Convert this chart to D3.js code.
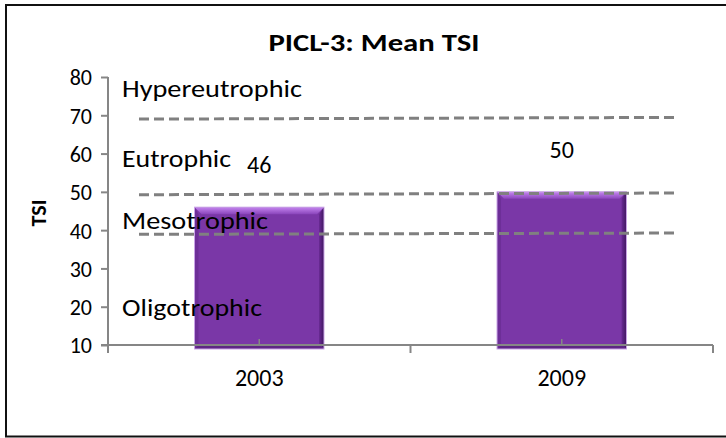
<!DOCTYPE html>
<html>
<head>
<meta charset="utf-8">
<script src="https://cdn.jsdelivr.net/npm/d3@7"></script>
<style>
  html, body { margin: 0; padding: 0; background: #fff; }
  svg { display: block; }
  text { font-family: Carlito, Lato, "DejaVu Sans", sans-serif; fill: #000; }
</style>
</head>
<body>
<svg id="mainsvg" width="726" height="438"></svg>
<script>
// data
const years = ['2003', '2009']
const meanTSI = [46, 50]
const yTicks = [10, 20, 30, 40, 50, 60, 70, 80]
const zoneNames = ['Hypereutrophic', 'Eutrophic', 'Mesotrophic', 'Oligotrophic']
// dashed class limits, value at the left end and at the right end (they tilt a bit)
const limitLeft = [69.0, 49.25, 38.9]
const limitRight = [69.45, 49.7, 39.25]

const svg = d3.select('#mainsvg')

// outer frame
svg.append('rect')
  .attr('x', 6).attr('y', 5)
  .attr('width', 730).attr('height', 431.5)
  .attr('fill', 'none')
  .attr('stroke', '#111')
  .attr('stroke-width', 2)

const plot = {left: 108, right: 713, top: 77, bottom: 345}

const y = d3.scaleLinear().domain([10, 80]).range([plot.bottom, plot.top])
const x = d3.scaleBand().domain(years).range([plot.left, plot.right])
  .paddingInner(0.572).paddingOuter(0.286)

// title
svg.append('text')
  .attr('x', 374).attr('y', 51)
  .attr('text-anchor', 'middle')
  .style('font-size', '24px').style('font-weight', 'bold')
  .attr('textLength', 211).attr('lengthAdjust', 'spacingAndGlyphs')
  .text('PICL-3: Mean TSI')

// bars with a bevel look
const defs = svg.append('defs')
const topGrad = defs.append('linearGradient').attr('id', 'topBevel')
  .attr('x1', 0).attr('y1', 0).attr('x2', 0).attr('y2', 1)
topGrad.append('stop').attr('offset', '0%').attr('stop-color', '#c585f0')
topGrad.append('stop').attr('offset', '100%').attr('stop-color', '#8a45bb')
const rightGrad = defs.append('linearGradient').attr('id', 'rightBevel')
  .attr('x1', 0).attr('y1', 0).attr('x2', 1).attr('y2', 0)
rightGrad.append('stop').attr('offset', '0%').attr('stop-color', '#6a2b95')
rightGrad.append('stop').attr('offset', '100%').attr('stop-color', '#401760')

const bars = svg.append('g')
years.forEach((yr, i) => {
  const x0 = x(yr), w = x.bandwidth()
  const top = y(meanTSI[i]), bot = y(10) + 4
  const b = 7
  const g = bars.append('g')
  g.append('rect')
    .attr('x', x0).attr('y', top)
    .attr('width', w).attr('height', bot - top)
    .attr('fill', '#7a37a7')
  g.append('path')
    .attr('d', `M${x0},${top} L${x0 + w},${top} L${x0 + w - b},${top + b} L${x0 + b},${top + b} Z`)
    .attr('fill', 'url(#topBevel)')
  g.append('path')
    .attr('d', `M${x0 + w},${top} L${x0 + w},${bot} L${x0 + w - 5},${bot - 5} L${x0 + w - 5},${top + b} Z`)
    .attr('fill', 'url(#rightBevel)')
  g.append('path')
    .attr('d', `M${x0},${top} L${x0 + 4},${top + b} L${x0 + 4},${bot - 4} L${x0},${bot} Z`)
    .attr('fill', '#6d2f98')
  g.append('path')
    .attr('d', `M${x0},${bot} L${x0 + 4},${bot - 4} L${x0 + w - 5},${bot - 5} L${x0 + w},${bot} Z`)
    .attr('fill', '#5e2585')
  g.append('rect')
    .attr('x', x0).attr('y', top)
    .attr('width', w).attr('height', bot - top)
    .attr('fill', 'none')
    .attr('stroke', '#caa4e6').attr('stroke-width', 1)
})

// dashed class limits
const lineX0 = 139, lineX1 = 679
svg.append('g').selectAll('line')
  .data(limitLeft)
  .join('line')
  .attr('x1', lineX0).attr('x2', lineX1)
  .attr('y1', d => y(d))
  .attr('y2', (d, i) => y(limitRight[i]))
  .attr('stroke', '#808080')
  .attr('stroke-width', 3)
  .attr('stroke-dasharray', '10,5')

// axes
const axisColor = '#868686'
const yAxis = svg.append('g')
  .attr('transform', `translate(${plot.left},0)`)
  .call(d3.axisLeft(y).tickValues(yTicks).tickSize(7).tickPadding(9).tickFormat(d3.format('d')))
yAxis.select('.domain').attr('stroke', axisColor).attr('stroke-width', 2)
  .attr('d', `M0,${plot.top}V${plot.bottom}`)
yAxis.selectAll('.tick line').attr('stroke', axisColor).attr('stroke-width', 2)
yAxis.selectAll('.tick text')
  .style('font-size', '22px')
  .attr('dy', '0.36em')

const xg = svg.append('g').attr('transform', `translate(0,${plot.bottom})`)
xg.append('line')
  .attr('x1', plot.left - 7).attr('x2', plot.right)
  .attr('stroke', axisColor).attr('stroke-width', 2)
// boundary ticks (outside)
const bounds = [plot.left, plot.left + x.step(), plot.right]
xg.selectAll('.bound').data(bounds).join('line')
  .attr('class', 'bound')
  .attr('x1', d => d).attr('x2', d => d)
  .attr('y1', 0).attr('y2', 8)
  .attr('stroke', axisColor).attr('stroke-width', 2)
// small ticks at category centres (inside)
xg.selectAll('.mid').data(years).join('line')
  .attr('class', 'mid')
  .attr('x1', d => x(d) + x.bandwidth() / 2).attr('x2', d => x(d) + x.bandwidth() / 2)
  .attr('y1', 0).attr('y2', -6)
  .attr('stroke', axisColor).attr('stroke-width', 1.5)
xg.selectAll('.lab').data(years).join('text')
  .attr('class', 'lab')
  .attr('x', d => x(d) + x.bandwidth() / 2)
  .attr('y', 41)
  .attr('text-anchor', 'middle')
  .style('font-size', '24px')
  .text(d => d)

// y axis title
svg.append('text')
  .attr('transform', 'translate(46,213) rotate(-90)')
  .attr('text-anchor', 'middle')
  .style('font-size', '22px').style('font-weight', 'bold')
  .text('TSI')

// zone names
const zoneY = [97, 167, 228.5, 316]
const zoneW = [180, 109, 146, 140]
svg.append('g').selectAll('text')
  .data(zoneNames)
  .join('text')
  .attr('x', 122)
  .attr('y', (d, i) => zoneY[i])
  .attr('textLength', (d, i) => zoneW[i])
  .attr('lengthAdjust', 'spacingAndGlyphs')
  .style('font-size', '25px')
  .text(d => d)

// value labels
svg.append('g').selectAll('text')
  .data(meanTSI)
  .join('text')
  .attr('x', (d, i) => x(years[i]) + x.bandwidth() / 2)
  .attr('y', d => y(d) - 34)
  .attr('text-anchor', 'middle')
  .style('font-size', '24px')
  .text(d => d)
</script>
</body>
</html>
